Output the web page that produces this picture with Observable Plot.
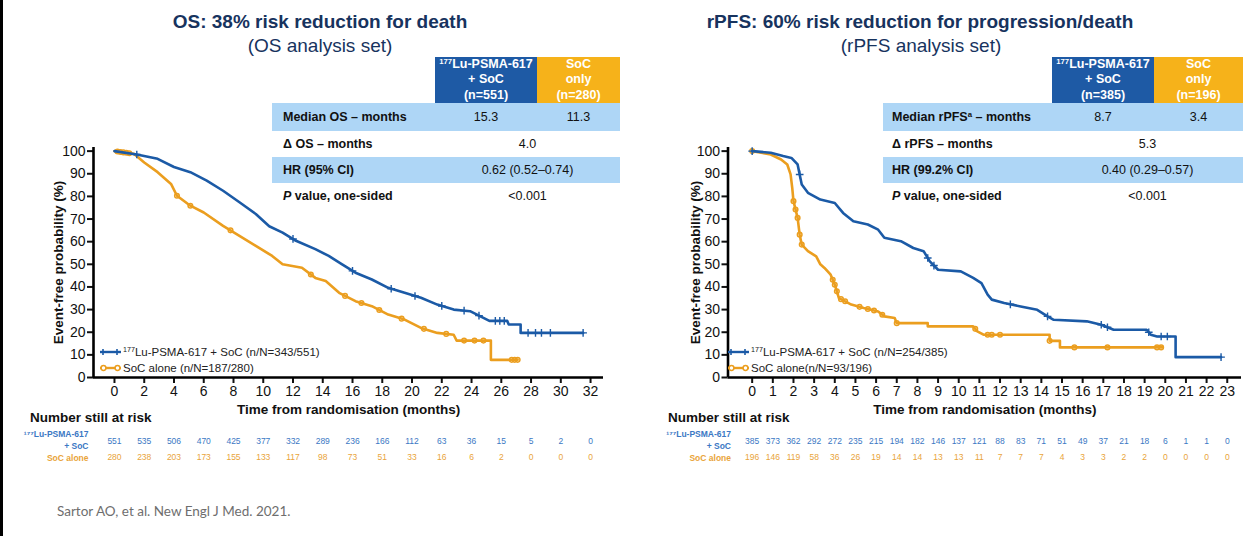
<!DOCTYPE html>
<html>
<head>
<meta charset="utf-8">
<script src="https://cdn.jsdelivr.net/npm/d3@7"></script>
<script src="https://cdn.jsdelivr.net/npm/@observablehq/plot@0.6"></script>
<style>
  html, body { margin: 0; padding: 0; background: #fff; }
  body { font-family: "Liberation Sans", Arial, sans-serif; }
  #page { position: relative; width: 1243px; height: 536px; overflow: hidden; background: #fff; }
  .edge { position: absolute; left: 0; top: 0; width: 3px; height: 536px; background: #000; }
  .title, .subtitle { position: absolute; white-space: nowrap; color: #17335e; transform: translateX(-50%); line-height: 19px; }
  .title { font-size: 19px; font-weight: bold; }
  .subtitle { font-size: 19px; }
  table.stats { position: absolute; border-collapse: collapse; table-layout: fixed; color: #111; font-size: 12.5px; }
  table.stats td { padding: 0; white-space: nowrap; }
  table.stats td.lab { font-weight: bold; }
  table.stats td.val { text-align: center; font-size: 12.5px; }
  table.stats tr.shade td { background: #aed6f6; }
  table.stats td.hlu, table.stats td.hsoc { color: #fff; font-weight: bold; text-align: center; line-height: 15.3px; vertical-align: top; }
  table.stats td.hlu { background: #1e5aa5; }
  table.stats td.hsoc { background: #f6b21a; }
  sup { font-size: 0.62em; line-height: 0; vertical-align: 0.55em; }
  .plot { position: absolute; }
  .legend { position: absolute; font-size: 11.5px; color: #222; }
  .legend .item { display: flex; align-items: center; height: 16px; white-space: nowrap; }
  .legend svg { margin-right: 1px; }
  .risk-title { position: absolute; font-size: 13.5px; font-weight: bold; color: #111; white-space: nowrap; }
  .source { position: absolute; left: 57px; top: 503px; font-family: Lato, "Open Sans", sans-serif; font-size: 13.5px; color: #6e6e6e; white-space: nowrap; }
  [aria-label="x-axis label"], [aria-label="y-axis label"] { font-weight: bold; font-size: 13.5px; }
</style>
</head>
<body>
<div id="page">
  <div class="edge"></div>
</div>
<script>
// ---------- Data ----------
const armColors = { lu: "#1b5aa6", soc: "#eb9e1f" };
const riskColors = { lu: "#3b78c4", soc: "#e9a43a" };

// Overall survival: Kaplan–Meier vertices [months, % event-free]
const osLu = [[0,100],[1.5,98.5],[2.9,96.6],[4,93],[5.1,90.7],[6.2,87],[7.3,82.5],[8.4,77.4],[9.5,72.2],
  [10.4,66.8],[11.3,64],[12.2,60.4],[13.5,56.7],[14.4,53.7],[15.3,50],[16.2,46.3],[17.3,43.3],[18.4,39.6],
  [19.5,37.4],[20.6,35.2],[21.7,32.2],[22.8,30],[23.9,29.3],[24.6,27],[25.2,25],[26.4,25],[26.5,23.4],
  [27.3,23.4],[27.3,19.7],[31.5,19.7]];
const osSoc = [[0,100],[1.3,98.8],[2,95],[2.9,90.7],[3.8,85.5],[4.2,80.3],[5.1,75.9],[6,72.9],[7.3,67],
  [8.4,62.6],[9.5,58.1],[10.6,53.7],[11.3,50],[12.6,48.5],[13.5,44],[14.2,42.6],[15.1,37.4],[16.2,33.7],
  [17.3,31.5],[18.4,27.8],[19.5,25.6],[20.6,21.9],[21.7,19.7],[22.8,18.9],[23,16.3],[25.3,16.3],
  [25.3,7.8],[27.1,7.8]];
// censoring times (months)
const osLuCensor = [1.5, 12, 16, 18.6, 20.2, 22, 23.5, 24.5, 25.6, 25.9, 26.2, 27.8, 28.3, 28.7, 29.3, 31.5];
const osSocCensor = [0.2, 0.4, 0.6, 0.8, 1.0, 4.2, 5.1, 7.8, 13.2, 15.5, 16.6, 17.8, 19.3, 20.8, 22.3, 23.5, 24.2, 24.8, 26.7, 26.9, 27.1];

// Radiographic PFS: Kaplan–Meier vertices [months, % event-free]
const pfsLu = [[0,100],[0.9,99.3],[1.5,97.8],[1.9,97],[2.2,94.1],[2.3,89.7],[2.4,85.3],[2.7,81.6],[3.3,78.6],
  [4,77.1],[4.4,72.7],[4.9,69],[5.6,67.6],[6.1,65.3],[6.4,61.7],[7.2,60.2],[7.8,57.2],[8.3,55.8],[8.6,51.3],
  [9,47.6],[10.1,46.9],[10.7,44],[11.1,41.7],[11.4,36.6],[11.6,34.4],[12.2,32.9],[13,31.4],[13.8,29.9],
  [14.3,27],[14.6,25.5],[16.2,24.8],[16.9,23.3],[17.5,21.1],[19.1,21.1],[19.3,18.9],[19.6,18.1],[20.5,18.1],
  [20.5,9],[22.7,9]];
const pfsSoc = [[0,100],[0.9,98.5],[1.4,96.3],[1.7,94.1],[1.86,89.7],[1.94,83.8],[2,77.9],[2.2,70.5],[2.3,63.1],
  [2.4,58.7],[2.7,55.8],[3.1,53.5],[3.3,50],[3.5,48.4],[3.8,45.4],[4,41],[4.2,35.1],[4.8,32.2],[5.4,30.7],
  [6.1,29.2],[6.4,27],[6.9,26.3],[7,24],[8.5,24],[8.5,22.6],[10.7,22.6],[10.9,20.4],[11.2,18.9],[14.4,18.9],
  [14.4,16.2],[14.9,16.2],[14.9,13.3],[19.85,13.3]];
const pfsLuCensor = [0, 2.3, 8.5, 8.8, 12.5, 14.3, 16.9, 17.2, 19.2, 19.8, 20.1, 22.7];
const pfsSocCensor = [0, 2.0, 2.1, 2.2, 2.3, 2.4, 3.9, 4.0, 4.1, 4.3, 4.5, 5.2, 5.6, 5.9, 6.3, 7.0, 10.8, 11.4, 11.6, 12.0, 14.4, 15.6, 17.2, 19.6, 19.8];

// Number at risk
const osRiskTimes = [0, 2, 4, 6, 8, 10, 12, 14, 16, 18, 20, 22, 24, 26, 28, 30, 32];
const osRiskLu = [551, 535, 506, 470, 425, 377, 332, 289, 236, 166, 112, 63, 36, 15, 5, 2, 0];
const osRiskSoc = [280, 238, 203, 173, 155, 133, 117, 98, 73, 51, 33, 16, 6, 2, 0, 0, 0];
const pfsRiskTimes = [0, 1, 2, 3, 4, 5, 6, 7, 8, 9, 10, 11, 12, 13, 14, 15, 16, 17, 18, 19, 20, 21, 22, 23];
const pfsRiskLu = [385, 373, 362, 292, 272, 235, 215, 194, 182, 146, 137, 121, 88, 83, 71, 51, 49, 37, 21, 18, 6, 1, 1, 0];
const pfsRiskSoc = [196, 146, 119, 58, 36, 26, 19, 14, 14, 13, 13, 11, 7, 7, 7, 4, 3, 3, 2, 2, 0, 0, 0, 0];

const yTicks = [0, 10, 20, 30, 40, 50, 60, 70, 80, 90, 100];

// Summary tables
const osHeadLu = ["<sup>177</sup>Lu-PSMA-617", "+ SoC", "(n=551)"];
const osHeadSoc = ["SoC", "only", "(n=280)"];
const osRowLabels = ["Median OS – months", "Δ OS – months", "HR (95% CI)", "<i>P</i> value, one-sided"];
const osRowValues = [["15.3", "11.3"], ["4.0"], ["0.62 (0.52–0.74)"], ["&lt;0.001"]];

const pfsHeadLu = ["<sup>177</sup>Lu-PSMA-617", "+ SoC", "(n=385)"];
const pfsHeadSoc = ["SoC", "only", "(n=196)"];
const pfsRowLabels = ["Median rPFS<sup>a</sup> – months", "Δ rPFS – months", "HR (99.2% CI)", "<i>P</i> value, one-sided"];
const pfsRowValues = [["8.7", "3.4"], ["5.3"], ["0.40 (0.29–0.57)"], ["&lt;0.001"]];

// ---------- Helpers ----------
const page = document.getElementById("page");

function addDiv(cls, html, style) {
  const d = document.createElement("div");
  d.className = cls;
  d.innerHTML = html;
  Object.assign(d.style, style);
  page.appendChild(d);
  return d;
}

// value of a piecewise-linear KM trace at time t
function survAt(vertices, t) {
  let i = 0;
  while (i < vertices.length - 1 && vertices[i + 1][0] <= t) i++;
  const [t0, s0] = vertices[i];
  if (i === vertices.length - 1) return s0;
  const [t1, s1] = vertices[i + 1];
  return t1 === t0 ? s1 : s0 + (s1 - s0) * (t - t0) / (t1 - t0);
}

function statsTable({left, top, labW, luW, socW, padL, headLu, headSoc, labels, values}) {
  const t = document.createElement("table");
  t.className = "stats";
  Object.assign(t.style, {left: left + "px", top: top + "px", width: (labW + luW + socW) + "px"});
  const rowH = [28, 26, 26, 25];
  let h = `<colgroup><col style="width:${labW}px"><col style="width:${luW}px"><col style="width:${socW}px"></colgroup>`;
  h += `<tr style="height:46px"><td></td><td class="hlu">${headLu.join("<br>")}</td><td class="hsoc">${headSoc.join("<br>")}</td></tr>`;
  labels.forEach((lab, i) => {
    const v = values[i];
    const cells = v.length === 2
      ? `<td class="val">${v[0]}</td><td class="val">${v[1]}</td>`
      : `<td class="val" colspan="2">${v[0]}</td>`;
    h += `<tr class="${i % 2 === 0 ? "shade" : ""}" style="height:${rowH[i]}px"><td class="lab" style="padding-left:${padL}px">${lab}</td>${cells}</tr>`;
  });
  t.innerHTML = h;
  page.appendChild(t);
}

function legend({left, top, items}) {
  const d = addDiv("legend", "", {left: left + "px", top: top + "px"});
  items.forEach(it => {
    const row = document.createElement("div");
    row.className = "item";
    const mk = it.marker === "plus"
      ? `<path d="M3,5v6M0,8h6M17,5v6M14,8h6" stroke="${it.color}" stroke-width="1.6"/>`
      : `<circle cx="3.5" cy="8" r="2.4" fill="#fff" stroke="${it.color}" stroke-width="1.5"/><circle cx="17.5" cy="8" r="2.4" fill="#fff" stroke="${it.color}" stroke-width="1.5"/>`;
    row.innerHTML = `<svg width="22" height="16"><line x1="0" y1="8" x2="21" y2="8" stroke="${it.color}" stroke-width="2.4"/>${mk}</svg><span>${it.text}</span>`;
    d.appendChild(row);
  });
}

function kmPlot({left, width, marginLeft, marginRight, xDomain, xTicks, lu, soc, luCensor, socCensor, yLabelOffset}) {
  const luC = luCensor.map(t => ({t, s: survAt(lu, t)}));
  const socC = socCensor.map(t => ({t, s: survAt(soc, t)}));
  const chart = Plot.plot({
    width, height: 277,
    marginTop: 7, marginBottom: 40, marginLeft, marginRight,
    style: {fontFamily: '"Liberation Sans", Arial, sans-serif', fontSize: "14px", color: "#111", background: "transparent", overflow: "visible"},
    x: {domain: xDomain},
    y: {domain: [0, 101.6]},
    marks: [
      Plot.axisY({ticks: yTicks, tickSize: 6, tickPadding: 2, strokeWidth: 2, label: "Event-free probability (%)", labelAnchor: "center", labelOffset: yLabelOffset, labelArrow: "none"}),
      Plot.axisX({ticks: xTicks, tickSize: 6, tickPadding: 3, strokeWidth: 2, label: "Time from randomisation (months)", labelAnchor: "center", labelOffset: 36, labelArrow: "none"}),
      Plot.ruleX([xDomain[0]], {stroke: "#000", strokeWidth: 2.6}),
      Plot.ruleY([0], {stroke: "#000", strokeWidth: 2.6}),
      Plot.line(soc, {x: d => d[0], y: d => d[1], stroke: armColors.soc, strokeWidth: 2.6, strokeLinejoin: "round"}),
      Plot.dot(socC, {x: "t", y: "s", r: 2.3, stroke: armColors.soc, strokeWidth: 1.5, fill: "none"}),
      Plot.line(lu, {x: d => d[0], y: d => d[1], stroke: armColors.lu, strokeWidth: 2.6, strokeLinejoin: "round"}),
      Plot.dot(luC, {x: "t", y: "s", symbol: "plus", r: 2.6, stroke: armColors.lu, strokeWidth: 1.4})
    ]
  });
  chart.classList.add("plot");
  Object.assign(chart.style, {left: left + "px", top: "140px"});
  page.appendChild(chart);
}

function riskPlot({left, width, marginLeft, marginRight, xDomain, times, lu, soc, labelDx}) {
  const rows = [
    ...times.map((t, i) => ({t, arm: "lu", n: lu[i]})),
    ...times.map((t, i) => ({t, arm: "soc", n: soc[i]}))
  ];
  const chart = Plot.plot({
    width, height: 40,
    marginTop: 5, marginBottom: 3, marginLeft, marginRight,
    style: {fontFamily: '"Liberation Sans", Arial, sans-serif', background: "transparent", overflow: "visible"},
    x: {domain: xDomain, axis: null},
    y: {type: "point", domain: ["lu", "soc"], axis: null, padding: 0.5},
    marks: [
      Plot.text(rows.filter(d => d.arm === "lu"), {x: "t", y: "arm", text: "n", fill: riskColors.lu, fontSize: 8.5}),
      Plot.text(rows.filter(d => d.arm === "soc"), {x: "t", y: "arm", text: "n", fill: riskColors.soc, fontSize: 8.5}),
      Plot.text(["lu"], {y: d => d, text: () => "¹⁷⁷Lu-PSMA-617\n+ SoC", frameAnchor: "left", textAnchor: "end", dx: labelDx, dy: -2.5, fill: riskColors.lu, fontWeight: "bold", fontSize: 8.5, lineHeight: 1.45}),
      Plot.text(["soc"], {y: d => d, text: () => "SoC alone", frameAnchor: "left", textAnchor: "end", dx: labelDx, dy: 0.5, fill: riskColors.soc, fontWeight: "bold", fontSize: 8.5})
    ]
  });
  chart.classList.add("plot");
  Object.assign(chart.style, {left: left + "px", top: "428px"});
  page.appendChild(chart);
}

// ---------- Left panel: overall survival ----------
addDiv("title", "OS: 38% risk reduction for death", {left: "320px", top: "12px"});
addDiv("subtitle", "(OS analysis set)", {left: "320px", top: "36px"});
statsTable({left: 272, top: 57, labW: 163, luW: 102, socW: 83, padL: 11,
  headLu: osHeadLu, headSoc: osHeadSoc, labels: osRowLabels, values: osRowValues});

const osX = [-1.41, 32.87];
kmPlot({left: 0, width: 620, marginLeft: 93, marginRight: 17, xDomain: osX, xTicks: osRiskTimes,
  lu: osLu, soc: osSoc, luCensor: osLuCensor, socCensor: osSocCensor, yLabelOffset: 40});
legend({left: 100, top: 344, items: [
  {color: armColors.lu, marker: "plus", text: "<sup>177</sup>Lu-PSMA-617 + SoC (n/N=343/551)"},
  {color: armColors.soc, marker: "circle", text: "SoC alone (n/N=187/280)"}
]});
addDiv("risk-title", "Number still at risk", {left: "30px", top: "410px"});
riskPlot({left: 0, width: 620, marginLeft: 93, marginRight: 17, xDomain: osX,
  times: osRiskTimes, lu: osRiskLu, soc: osRiskSoc, labelDx: -5});

// ---------- Right panel: radiographic PFS ----------
addDiv("title", "rPFS: 60% risk reduction for progression/death", {left: "920px", top: "12px"});
addDiv("subtitle", "(rPFS analysis set)", {left: "921px", top: "36px"});
statsTable({left: 883, top: 57, labW: 169, luW: 102, socW: 89, padL: 9,
  headLu: pfsHeadLu, headSoc: pfsHeadSoc, labels: pfsRowLabels, values: pfsRowValues});

const pfsX = [-1.17, 23.69];
kmPlot({left: 620, width: 623, marginLeft: 107.5, marginRight: 2, xDomain: pfsX, xTicks: pfsRiskTimes,
  lu: pfsLu, soc: pfsSoc, luCensor: pfsLuCensor, socCensor: pfsSocCensor, yLabelOffset: 38});
legend({left: 728, top: 344, items: [
  {color: armColors.lu, marker: "plus", text: "<sup>177</sup>Lu-PSMA-617 + SoC (n/N=254/385)"},
  {color: armColors.soc, marker: "circle", text: "SoC alone(n/N=93/196)"}
]});
addDiv("risk-title", "Number still at risk", {left: "668px", top: "410px"});
riskPlot({left: 620, width: 623, marginLeft: 107.5, marginRight: 2, xDomain: pfsX,
  times: pfsRiskTimes, lu: pfsRiskLu, soc: pfsRiskSoc, labelDx: 3});

addDiv("source", "Sartor AO, et al. New Engl J Med. 2021.", {});
</script>
</body>
</html>
